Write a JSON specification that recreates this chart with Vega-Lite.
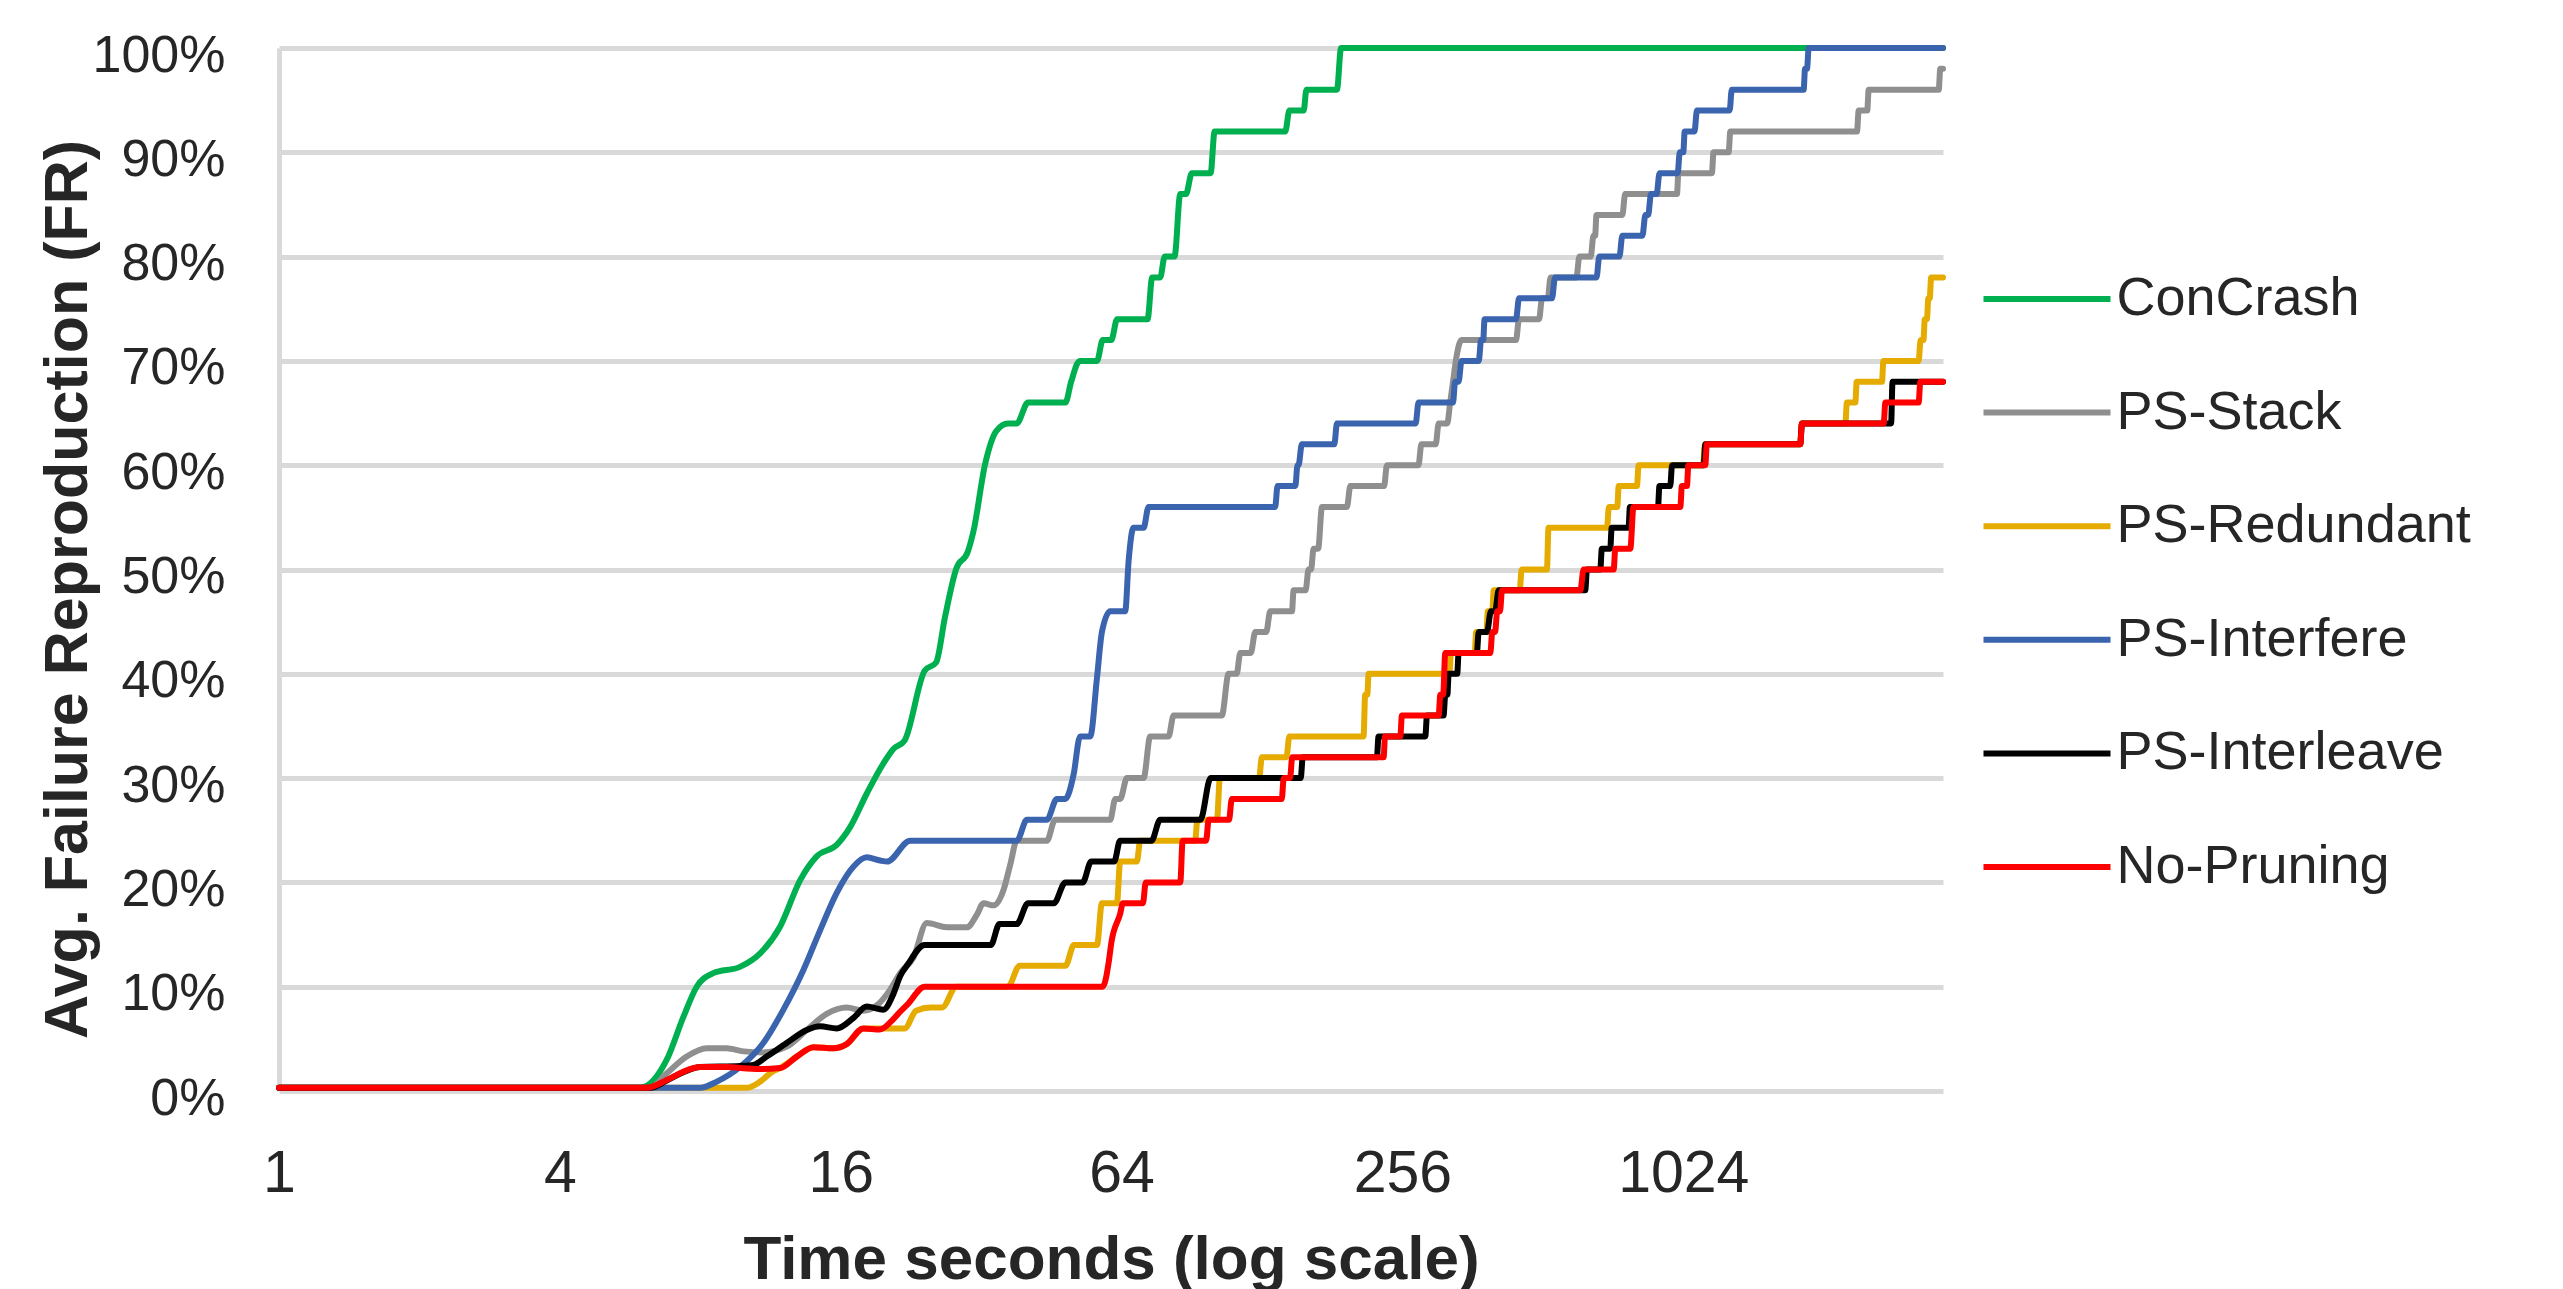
{
"$schema": "https://vega.github.io/schema/vega-lite/v6.json",
"autosize": {"type": "none"},
"padding": {"left": 279, "top": 48, "right": 620, "bottom": 198},
"width": 1664,
"height": 1043,
"background": "white",
"config": {"view": {"stroke": null}, "font": "Liberation Sans"},
"datasets": {"pts": [
{"series":"ConCrash","t":1,"fr":0.3},{"series":"ConCrash","t":4,"fr":0.3},{"series":"ConCrash","t":5.94,"fr":0.3},{"series":"ConCrash","t":6.78,"fr":3.0},{"series":"ConCrash","t":7.36,"fr":7.1},{"series":"ConCrash","t":7.86,"fr":10.0},{"series":"ConCrash","t":8.53,"fr":11.3},{"series":"ConCrash","t":9.73,"fr":11.9},{"series":"ConCrash","t":10.75,"fr":13.2},{"series":"ConCrash","t":11.86,"fr":15.75},{"series":"ConCrash","t":13.09,"fr":20.2},{"series":"ConCrash","t":14.21,"fr":22.5},{"series":"ConCrash","t":15.69,"fr":23.6},{"series":"ConCrash","t":16.76,"fr":25.3},{"series":"ConCrash","t":18.19,"fr":28.5},{"series":"ConCrash","t":19.75,"fr":31.4},{"series":"ConCrash","t":20.75,"fr":32.8},{"series":"ConCrash","t":21.93,"fr":33.6},{"series":"ConCrash","t":24.22,"fr":40.3},{"series":"ConCrash","t":25.63,"fr":41.1},{"series":"ConCrash","t":26.76,"fr":45.4},{"series":"ConCrash","t":28.31,"fr":50.1},{"series":"ConCrash","t":29.96,"fr":51.7},{"series":"ConCrash","t":30.82,"fr":53.7},{"series":"ConCrash","t":32.63,"fr":60.1},{"series":"ConCrash","t":34.51,"fr":63.3},{"series":"ConCrash","t":36.53,"fr":64},{"series":"ConCrash","t":38.13,"fr":64},{"series":"ConCrash","t":40.34,"fr":66},{"series":"ConCrash","t":48.5,"fr":66},{"series":"ConCrash","t":49.9,"fr":68},{"series":"ConCrash","t":52.06,"fr":70},{"series":"ConCrash","t":56.69,"fr":70},{"series":"ConCrash","t":58.32,"fr":72},{"series":"ConCrash","t":60.84,"fr":72},{"series":"ConCrash","t":62.6,"fr":74},{"series":"ConCrash","t":72.76,"fr":74},{"series":"ConCrash","t":74.44,"fr":78},{"series":"ConCrash","t":77.44,"fr":78},{"series":"ConCrash","t":79.18,"fr":80},{"series":"ConCrash","t":83.12,"fr":80},{"series":"ConCrash","t":85.51,"fr":86},{"series":"ConCrash","t":87.97,"fr":86},{"series":"ConCrash","t":90.51,"fr":88},{"series":"ConCrash","t":99.32,"fr":88},{"series":"ConCrash","t":101.3,"fr":92},{"series":"ConCrash","t":143.6,"fr":92},{"series":"ConCrash","t":146.5,"fr":94},{"series":"ConCrash","t":157.2,"fr":94},{"series":"ConCrash","t":159.4,"fr":96},{"series":"ConCrash","t":185.3,"fr":96},{"series":"ConCrash","t":189.1,"fr":100},{"series":"ConCrash","t":3690,"fr":100},
{"series":"PS-Stack","t":1,"fr":0.3},{"series":"PS-Stack","t":6.24,"fr":0.3},{"series":"PS-Stack","t":6.78,"fr":1.7},{"series":"PS-Stack","t":7.48,"fr":3.3},{"series":"PS-Stack","t":8.26,"fr":4.1},{"series":"PS-Stack","t":9.11,"fr":4.1},{"series":"PS-Stack","t":9.9,"fr":3.8},{"series":"PS-Stack","t":10.92,"fr":3.7},{"series":"PS-Stack","t":12.25,"fr":4.25},{"series":"PS-Stack","t":13.53,"fr":5.85},{"series":"PS-Stack","t":14.93,"fr":7.4},{"series":"PS-Stack","t":16.48,"fr":8.0},{"series":"PS-Stack","t":17.89,"fr":7.7},{"series":"PS-Stack","t":19.11,"fr":8.2},{"series":"PS-Stack","t":20.41,"fr":9.7},{"series":"PS-Stack","t":21.45,"fr":11.3},{"series":"PS-Stack","t":22.91,"fr":12.8},{"series":"PS-Stack","t":24.47,"fr":16.1},{"series":"PS-Stack","t":27.02,"fr":15.7},{"series":"PS-Stack","t":29.82,"fr":15.7},{"series":"PS-Stack","t":31.34,"fr":16.9},{"series":"PS-Stack","t":32.38,"fr":18},{"series":"PS-Stack","t":34.01,"fr":17.8},{"series":"PS-Stack","t":35.75,"fr":19.3},{"series":"PS-Stack","t":36.94,"fr":21.7},{"series":"PS-Stack","t":38.16,"fr":24},{"series":"PS-Stack","t":44.26,"fr":24},{"series":"PS-Stack","t":46.11,"fr":26},{"series":"PS-Stack","t":60.51,"fr":26},{"series":"PS-Stack","t":62.04,"fr":28},{"series":"PS-Stack","t":63.56,"fr":28},{"series":"PS-Stack","t":65.71,"fr":30},{"series":"PS-Stack","t":71.36,"fr":30},{"series":"PS-Stack","t":73.72,"fr":34},{"series":"PS-Stack","t":80.73,"fr":34},{"series":"PS-Stack","t":82.71,"fr":36},{"series":"PS-Stack","t":104.98,"fr":36},{"series":"PS-Stack","t":108.53,"fr":40},{"series":"PS-Stack","t":112.99,"fr":40},{"series":"PS-Stack","t":114.96,"fr":42},{"series":"PS-Stack","t":121.1,"fr":42},{"series":"PS-Stack","t":123.8,"fr":44},{"series":"PS-Stack","t":130.7,"fr":44},{"series":"PS-Stack","t":133.3,"fr":46},{"series":"PS-Stack","t":148.4,"fr":46},{"series":"PS-Stack","t":149.6,"fr":48},{"series":"PS-Stack","t":158.7,"fr":48},{"series":"PS-Stack","t":161.1,"fr":50},{"series":"PS-Stack","t":163.1,"fr":50},{"series":"PS-Stack","t":165.1,"fr":52},{"series":"PS-Stack","t":168.9,"fr":52},{"series":"PS-Stack","t":172.1,"fr":56},{"series":"PS-Stack","t":194.7,"fr":56},{"series":"PS-Stack","t":197.9,"fr":58},{"series":"PS-Stack","t":233.8,"fr":58},{"series":"PS-Stack","t":237.2,"fr":60},{"series":"PS-Stack","t":277.1,"fr":60},{"series":"PS-Stack","t":281.1,"fr":62},{"series":"PS-Stack","t":301.7,"fr":62},{"series":"PS-Stack","t":306.1,"fr":64},{"series":"PS-Stack","t":319.3,"fr":64},{"series":"PS-Stack","t":324,"fr":66},{"series":"PS-Stack","t":328.6,"fr":68},{"series":"PS-Stack","t":333.2,"fr":70},{"series":"PS-Stack","t":342.7,"fr":72},{"series":"PS-Stack","t":448.5,"fr":72},{"series":"PS-Stack","t":455.1,"fr":74},{"series":"PS-Stack","t":502.5,"fr":74},{"series":"PS-Stack","t":509.9,"fr":76},{"series":"PS-Stack","t":524.6,"fr":76},{"series":"PS-Stack","t":531.9,"fr":78},{"series":"PS-Stack","t":604.2,"fr":78},{"series":"PS-Stack","t":613.1,"fr":80},{"series":"PS-Stack","t":648.5,"fr":80},{"series":"PS-Stack","t":657.2,"fr":82},{"series":"PS-Stack","t":662.6,"fr":82},{"series":"PS-Stack","t":667.2,"fr":84},{"series":"PS-Stack","t":758,"fr":84},{"series":"PS-Stack","t":768.5,"fr":86},{"series":"PS-Stack","t":992.6,"fr":86},{"series":"PS-Stack","t":999.5,"fr":88},{"series":"PS-Stack","t":1179.5,"fr":88},{"series":"PS-Stack","t":1188.6,"fr":90},{"series":"PS-Stack","t":1280.9,"fr":90},{"series":"PS-Stack","t":1291.7,"fr":92},{"series":"PS-Stack","t":2413.6,"fr":92},{"series":"PS-Stack","t":2433.8,"fr":94},{"series":"PS-Stack","t":2538.9,"fr":94},{"series":"PS-Stack","t":2556.5,"fr":96},{"series":"PS-Stack","t":3613.1,"fr":96},{"series":"PS-Stack","t":3640.7,"fr":98},{"series":"PS-Stack","t":3690,"fr":98},
{"series":"PS-Redundant","t":1,"fr":0.3},{"series":"PS-Redundant","t":10.06,"fr":0.3},{"series":"PS-Redundant","t":10.75,"fr":0.9},{"series":"PS-Redundant","t":11.47,"fr":1.9},{"series":"PS-Redundant","t":11.86,"fr":2.2},{"series":"PS-Redundant","t":12.88,"fr":3.3},{"series":"PS-Redundant","t":13.99,"fr":4.2},{"series":"PS-Redundant","t":15.43,"fr":4.1},{"series":"PS-Redundant","t":16.48,"fr":4.5},{"series":"PS-Redundant","t":17.89,"fr":6.0},{"series":"PS-Redundant","t":19.43,"fr":6.0},{"series":"PS-Redundant","t":21.93,"fr":6.0},{"series":"PS-Redundant","t":23.21,"fr":7.7},{"series":"PS-Redundant","t":24.92,"fr":8},{"series":"PS-Redundant","t":26.37,"fr":8},{"series":"PS-Redundant","t":28.31,"fr":10},{"series":"PS-Redundant","t":36.53,"fr":10},{"series":"PS-Redundant","t":38.67,"fr":12},{"series":"PS-Redundant","t":48.5,"fr":12},{"series":"PS-Redundant","t":50.6,"fr":14},{"series":"PS-Redundant","t":56.69,"fr":14},{"series":"PS-Redundant","t":58.08,"fr":18},{"series":"PS-Redundant","t":62.55,"fr":18},{"series":"PS-Redundant","t":63.56,"fr":22},{"series":"PS-Redundant","t":69.02,"fr":22},{"series":"PS-Redundant","t":70.18,"fr":24},{"series":"PS-Redundant","t":92.03,"fr":24},{"series":"PS-Redundant","t":93.05,"fr":26},{"series":"PS-Redundant","t":102.5,"fr":26},{"series":"PS-Redundant","t":103.97,"fr":30},{"series":"PS-Redundant","t":126.2,"fr":30},{"series":"PS-Redundant","t":127.9,"fr":32},{"series":"PS-Redundant","t":144.4,"fr":32},{"series":"PS-Redundant","t":146.5,"fr":34},{"series":"PS-Redundant","t":211.3,"fr":34},{"series":"PS-Redundant","t":213,"fr":38},{"series":"PS-Redundant","t":215.3,"fr":38},{"series":"PS-Redundant","t":216.6,"fr":40},{"series":"PS-Redundant","t":322.9,"fr":40},{"series":"PS-Redundant","t":325.2,"fr":42},{"series":"PS-Redundant","t":365.8,"fr":42},{"series":"PS-Redundant","t":368.4,"fr":44},{"series":"PS-Redundant","t":387.5,"fr":44},{"series":"PS-Redundant","t":390.2,"fr":46},{"series":"PS-Redundant","t":398.9,"fr":46},{"series":"PS-Redundant","t":401.7,"fr":48},{"series":"PS-Redundant","t":456.7,"fr":48},{"series":"PS-Redundant","t":461.1,"fr":50},{"series":"PS-Redundant","t":522.4,"fr":50},{"series":"PS-Redundant","t":526.4,"fr":54},{"series":"PS-Redundant","t":702.8,"fr":54},{"series":"PS-Redundant","t":709.2,"fr":56},{"series":"PS-Redundant","t":739.3,"fr":56},{"series":"PS-Redundant","t":744.4,"fr":58},{"series":"PS-Redundant","t":814.6,"fr":58},{"series":"PS-Redundant","t":821.4,"fr":60},{"series":"PS-Redundant","t":1128.4,"fr":60},{"series":"PS-Redundant","t":1140.1,"fr":62},{"series":"PS-Redundant","t":1820.4,"fr":62},{"series":"PS-Redundant","t":1839.4,"fr":64},{"series":"PS-Redundant","t":2278.8,"fr":64},{"series":"PS-Redundant","t":2296.2,"fr":66},{"series":"PS-Redundant","t":2393.7,"fr":66},{"series":"PS-Redundant","t":2410.3,"fr":68},{"series":"PS-Redundant","t":2730.6,"fr":68},{"series":"PS-Redundant","t":2749.5,"fr":70},{"series":"PS-Redundant","t":3272.1,"fr":70},{"series":"PS-Redundant","t":3304,"fr":72},{"series":"PS-Redundant","t":3350.1,"fr":72},{"series":"PS-Redundant","t":3373.4,"fr":74},{"series":"PS-Redundant","t":3408.7,"fr":74},{"series":"PS-Redundant","t":3432.4,"fr":76},{"series":"PS-Redundant","t":3456.2,"fr":76},{"series":"PS-Redundant","t":3480.4,"fr":78},{"series":"PS-Redundant","t":3690,"fr":78},
{"series":"PS-Interfere","t":1,"fr":0.3},{"series":"PS-Interfere","t":7.99,"fr":0.3},{"series":"PS-Interfere","t":8.68,"fr":0.9},{"series":"PS-Interfere","t":9.73,"fr":2.3},{"series":"PS-Interfere","t":10.92,"fr":4.6},{"series":"PS-Interfere","t":12.06,"fr":7.8},{"series":"PS-Interfere","t":13.31,"fr":11.6},{"series":"PS-Interfere","t":14.45,"fr":15.4},{"series":"PS-Interfere","t":15.69,"fr":19.0},{"series":"PS-Interfere","t":17.03,"fr":21.5},{"series":"PS-Interfere","t":18.19,"fr":22.4},{"series":"PS-Interfere","t":19.44,"fr":22.1},{"series":"PS-Interfere","t":20.11,"fr":22.0},{"series":"PS-Interfere","t":22.55,"fr":24},{"series":"PS-Interfere","t":24.25,"fr":24},{"series":"PS-Interfere","t":38.16,"fr":24},{"series":"PS-Interfere","t":40.11,"fr":26},{"series":"PS-Interfere","t":44.26,"fr":26},{"series":"PS-Interfere","t":46.5,"fr":28},{"series":"PS-Interfere","t":48.47,"fr":28},{"series":"PS-Interfere","t":50.49,"fr":30.3},{"series":"PS-Interfere","t":52.16,"fr":34},{"series":"PS-Interfere","t":54.83,"fr":34},{"series":"PS-Interfere","t":56.65,"fr":39.5},{"series":"PS-Interfere","t":58.08,"fr":44},{"series":"PS-Interfere","t":60.51,"fr":46},{"series":"PS-Interfere","t":65.16,"fr":46},{"series":"PS-Interfere","t":66.26,"fr":50.8},{"series":"PS-Interfere","t":67.89,"fr":54},{"series":"PS-Interfere","t":71.36,"fr":54},{"series":"PS-Interfere","t":73.11,"fr":56},{"series":"PS-Interfere","t":136.6,"fr":56},{"series":"PS-Interfere","t":138.2,"fr":58},{"series":"PS-Interfere","t":150.9,"fr":58},{"series":"PS-Interfere","t":152.5,"fr":60},{"series":"PS-Interfere","t":153.3,"fr":60},{"series":"PS-Interfere","t":155.8,"fr":62},{"series":"PS-Interfere","t":182.9,"fr":62},{"series":"PS-Interfere","t":185.3,"fr":64},{"series":"PS-Interfere","t":273.3,"fr":64},{"series":"PS-Interfere","t":277.1,"fr":66},{"series":"PS-Interfere","t":328.6,"fr":66},{"series":"PS-Interfere","t":332,"fr":68},{"series":"PS-Interfere","t":337.8,"fr":68},{"series":"PS-Interfere","t":342.7,"fr":70},{"series":"PS-Interfere","t":373.2,"fr":70},{"series":"PS-Interfere","t":377.4,"fr":72},{"series":"PS-Interfere","t":381.4,"fr":72},{"series":"PS-Interfere","t":384,"fr":74},{"series":"PS-Interfere","t":448.5,"fr":74},{"series":"PS-Interfere","t":455.1,"fr":76},{"series":"PS-Interfere","t":535.6,"fr":76},{"series":"PS-Interfere","t":543.8,"fr":78},{"series":"PS-Interfere","t":667.2,"fr":78},{"series":"PS-Interfere","t":676.5,"fr":80},{"series":"PS-Interfere","t":747,"fr":80},{"series":"PS-Interfere","t":758,"fr":82},{"series":"PS-Interfere","t":837,"fr":82},{"series":"PS-Interfere","t":849.2,"fr":84},{"series":"PS-Interfere","t":861.1,"fr":84},{"series":"PS-Interfere","t":873.1,"fr":86},{"series":"PS-Interfere","t":897.6,"fr":86},{"series":"PS-Interfere","t":910.8,"fr":88},{"series":"PS-Interfere","t":996,"fr":88},{"series":"PS-Interfere","t":1006.4,"fr":90},{"series":"PS-Interfere","t":1024,"fr":90},{"series":"PS-Interfere","t":1031.1,"fr":92},{"series":"PS-Interfere","t":1082.4,"fr":92},{"series":"PS-Interfere","t":1095.2,"fr":94},{"series":"PS-Interfere","t":1287.2,"fr":94},{"series":"PS-Interfere","t":1300.7,"fr":96},{"series":"PS-Interfere","t":1854.8,"fr":96},{"series":"PS-Interfere","t":1867.7,"fr":98},{"series":"PS-Interfere","t":1885.8,"fr":98},{"series":"PS-Interfere","t":1901.7,"fr":100},{"series":"PS-Interfere","t":3690,"fr":100},
{"series":"PS-Interleave","t":1,"fr":0.3},{"series":"PS-Interleave","t":6.24,"fr":0.3},{"series":"PS-Interleave","t":6.78,"fr":1.0},{"series":"PS-Interleave","t":7.36,"fr":1.8},{"series":"PS-Interleave","t":7.99,"fr":2.3},{"series":"PS-Interleave","t":9.73,"fr":2.4},{"series":"PS-Interleave","t":10.4,"fr":2.5},{"series":"PS-Interleave","t":11.1,"fr":3.3},{"series":"PS-Interleave","t":12.25,"fr":4.6},{"series":"PS-Interleave","t":13.53,"fr":5.85},{"series":"PS-Interleave","t":14.45,"fr":6.2},{"series":"PS-Interleave","t":15.69,"fr":6.0},{"series":"PS-Interleave","t":17.03,"fr":7.0},{"series":"PS-Interleave","t":18.19,"fr":8.1},{"series":"PS-Interleave","t":19.75,"fr":7.8},{"series":"PS-Interleave","t":20.75,"fr":9.3},{"series":"PS-Interleave","t":21.45,"fr":11.0},{"series":"PS-Interleave","t":22.25,"fr":12.1},{"series":"PS-Interleave","t":24.22,"fr":14},{"series":"PS-Interleave","t":33.57,"fr":14},{"series":"PS-Interleave","t":35.02,"fr":16},{"series":"PS-Interleave","t":38.13,"fr":16},{"series":"PS-Interleave","t":40.34,"fr":18},{"series":"PS-Interleave","t":45.82,"fr":18},{"series":"PS-Interleave","t":48.5,"fr":20},{"series":"PS-Interleave","t":52.82,"fr":20},{"series":"PS-Interleave","t":55.1,"fr":22},{"series":"PS-Interleave","t":61.73,"fr":22},{"series":"PS-Interleave","t":63.51,"fr":24},{"series":"PS-Interleave","t":74.18,"fr":24},{"series":"PS-Interleave","t":77.44,"fr":26},{"series":"PS-Interleave","t":94.42,"fr":26},{"series":"PS-Interleave","t":99.32,"fr":30},{"series":"PS-Interleave","t":155,"fr":30},{"series":"PS-Interleave","t":156.5,"fr":32},{"series":"PS-Interleave","t":225.7,"fr":32},{"series":"PS-Interleave","t":227.5,"fr":34},{"series":"PS-Interleave","t":286.6,"fr":34},{"series":"PS-Interleave","t":289,"fr":36},{"series":"PS-Interleave","t":313.6,"fr":36},{"series":"PS-Interleave","t":316.3,"fr":38},{"series":"PS-Interleave","t":319.6,"fr":38},{"series":"PS-Interleave","t":321.6,"fr":40},{"series":"PS-Interleave","t":335.5,"fr":40},{"series":"PS-Interleave","t":337.8,"fr":42},{"series":"PS-Interleave","t":369.6,"fr":42},{"series":"PS-Interleave","t":373,"fr":44},{"series":"PS-Interleave","t":388.6,"fr":44},{"series":"PS-Interleave","t":396.2,"fr":46},{"series":"PS-Interleave","t":404.5,"fr":46},{"series":"PS-Interleave","t":411.6,"fr":48},{"series":"PS-Interleave","t":631.2,"fr":48},{"series":"PS-Interleave","t":636.5,"fr":50},{"series":"PS-Interleave","t":679.8,"fr":50},{"series":"PS-Interleave","t":685,"fr":52},{"series":"PS-Interleave","t":714.1,"fr":52},{"series":"PS-Interleave","t":719.1,"fr":54},{"series":"PS-Interleave","t":781.5,"fr":54},{"series":"PS-Interleave","t":786.9,"fr":56},{"series":"PS-Interleave","t":903.9,"fr":56},{"series":"PS-Interleave","t":910.2,"fr":58},{"series":"PS-Interleave","t":960.1,"fr":58},{"series":"PS-Interleave","t":968.8,"fr":60},{"series":"PS-Interleave","t":1132.3,"fr":60},{"series":"PS-Interleave","t":1141.8,"fr":62},{"series":"PS-Interleave","t":1824.1,"fr":62},{"series":"PS-Interleave","t":1839.4,"fr":64},{"series":"PS-Interleave","t":2856.3,"fr":64},{"series":"PS-Interleave","t":2876.2,"fr":68},{"series":"PS-Interleave","t":3690,"fr":68},
{"series":"No-Pruning","t":1,"fr":0.3},{"series":"No-Pruning","t":6.14,"fr":0.3},{"series":"No-Pruning","t":6.78,"fr":1.05},{"series":"No-Pruning","t":7.36,"fr":1.85},{"series":"No-Pruning","t":7.99,"fr":2.3},{"series":"No-Pruning","t":9.19,"fr":2.3},{"series":"No-Pruning","t":9.73,"fr":2.2},{"series":"No-Pruning","t":10.75,"fr":2.1},{"series":"No-Pruning","t":11.86,"fr":2.2},{"series":"No-Pruning","t":12.88,"fr":3.3},{"series":"No-Pruning","t":13.99,"fr":4.2},{"series":"No-Pruning","t":15.43,"fr":4.1},{"series":"No-Pruning","t":16.48,"fr":4.5},{"series":"No-Pruning","t":17.89,"fr":6.0},{"series":"No-Pruning","t":19.43,"fr":5.9},{"series":"No-Pruning","t":20.75,"fr":6.9},{"series":"No-Pruning","t":21.45,"fr":7.6},{"series":"No-Pruning","t":22.25,"fr":8.3},{"series":"No-Pruning","t":24.22,"fr":10},{"series":"No-Pruning","t":58.32,"fr":10},{"series":"No-Pruning","t":60.13,"fr":12.5},{"series":"No-Pruning","t":60.84,"fr":14.2},{"series":"No-Pruning","t":63.56,"fr":17},{"series":"No-Pruning","t":64.4,"fr":18},{"series":"No-Pruning","t":71.11,"fr":18},{"series":"No-Pruning","t":72.11,"fr":20},{"series":"No-Pruning","t":85.51,"fr":20},{"series":"No-Pruning","t":86.52,"fr":24},{"series":"No-Pruning","t":97.14,"fr":24},{"series":"No-Pruning","t":98.36,"fr":26},{"series":"No-Pruning","t":108.76,"fr":26},{"series":"No-Pruning","t":110.28,"fr":28},{"series":"No-Pruning","t":141.1,"fr":28},{"series":"No-Pruning","t":142.5,"fr":30},{"series":"No-Pruning","t":147,"fr":30},{"series":"No-Pruning","t":148.6,"fr":32},{"series":"No-Pruning","t":233.3,"fr":32},{"series":"No-Pruning","t":234.9,"fr":34},{"series":"No-Pruning","t":253.4,"fr":34},{"series":"No-Pruning","t":255.3,"fr":36},{"series":"No-Pruning","t":306.1,"fr":36},{"series":"No-Pruning","t":308.7,"fr":38},{"series":"No-Pruning","t":313,"fr":38},{"series":"No-Pruning","t":316.3,"fr":42},{"series":"No-Pruning","t":395.1,"fr":42},{"series":"No-Pruning","t":398.9,"fr":44},{"series":"No-Pruning","t":404.5,"fr":44},{"series":"No-Pruning","t":408.7,"fr":46},{"series":"No-Pruning","t":414.4,"fr":46},{"series":"No-Pruning","t":418.5,"fr":48},{"series":"No-Pruning","t":616.1,"fr":48},{"series":"No-Pruning","t":626,"fr":50},{"series":"No-Pruning","t":726.1,"fr":50},{"series":"No-Pruning","t":732.2,"fr":52},{"series":"No-Pruning","t":788.5,"fr":52},{"series":"No-Pruning","t":800.7,"fr":56},{"series":"No-Pruning","t":1009.2,"fr":56},{"series":"No-Pruning","t":1016.9,"fr":58},{"series":"No-Pruning","t":1042.6,"fr":58},{"series":"No-Pruning","t":1049.9,"fr":60},{"series":"No-Pruning","t":1141.8,"fr":60},{"series":"No-Pruning","t":1149.7,"fr":62},{"series":"No-Pruning","t":1824.1,"fr":62},{"series":"No-Pruning","t":1839.4,"fr":64},{"series":"No-Pruning","t":2753.3,"fr":64},{"series":"No-Pruning","t":2776.3,"fr":66},{"series":"No-Pruning","t":3272.1,"fr":66},{"series":"No-Pruning","t":3299.4,"fr":68},{"series":"No-Pruning","t":3690,"fr":68}
]},
"data": {"name": "pts"},
"mark": {"type": "line", "interpolate": "monotone", "strokeWidth": 6, "strokeCap": "round", "strokeJoin": "round"},
"encoding": {
  "x": {"field": "t", "type": "quantitative",
    "scale": {"type": "log", "base": 2, "domain": [1, 3690], "nice": false},
    "axis": {"values": [1, 4, 16, 64, 256, 1024], "format": "d", "title": "Time seconds (log scale)",
      "grid": false, "domain": false, "ticks": false, "tickSize": 0,
      "labelFont": "Liberation Sans", "labelFontSize": 59, "labelColor": "#262626", "labelBaseline": "alphabetic", "labelPadding": 100, "labelFlush": false, "labelOverlap": false,
      "titleFont": "Liberation Sans", "titleFontSize": 62, "titleFontWeight": "bold", "titleColor": "#262626", "titleBaseline": "alphabetic", "titleAlign": "center", "titleX": 832, "titleY": 187}},
  "y": {"field": "fr", "type": "quantitative",
    "scale": {"domain": [0, 100], "nice": false},
    "axis": {"values": [0, 10, 20, 30, 40, 50, 60, 70, 80, 90, 100], "labelExpr": "datum.value + '%'", "title": "Avg. Failure Reproduction (FR)",
      "grid": true, "gridColor": "#d9d9d9", "gridWidth": 5, "domain": true, "domainColor": "#d9d9d9", "domainWidth": 5, "ticks": false, "tickSize": 0,
      "labelFont": "Liberation Sans", "labelFontSize": 52, "labelColor": "#262626", "labelPadding": 54, "labelOffset": 7, "labelFlush": false, "labelOverlap": false,
      "titleFont": "Liberation Sans", "titleFontSize": 61, "titleFontWeight": "bold", "titleColor": "#262626", "titleAngle": 270, "titleBaseline": "alphabetic", "titleAlign": "center", "titleX": -193, "titleY": 541}},
  "color": {"field": "series", "type": "nominal",
    "scale": {"domain": ["ConCrash", "PS-Stack", "PS-Redundant", "PS-Interfere", "PS-Interleave", "No-Pruning"],
              "range": ["#00b050", "#8f8f8f", "#e5ab00", "#3a64ad", "#000000", "#ff0000"]},
    "legend": {"title": null, "orient": "none", "legendX": 1701.5, "legendY": 184.5, "symbolType": "stroke", "symbolSize": 16129, "symbolStrokeWidth": 6,
      "labelFont": "Liberation Sans", "labelFontSize": 54, "labelColor": "#262626", "labelOffset": 3, "rowPadding": 19.6, "padding": 0, "labelLimit": 1000}}
}
}
